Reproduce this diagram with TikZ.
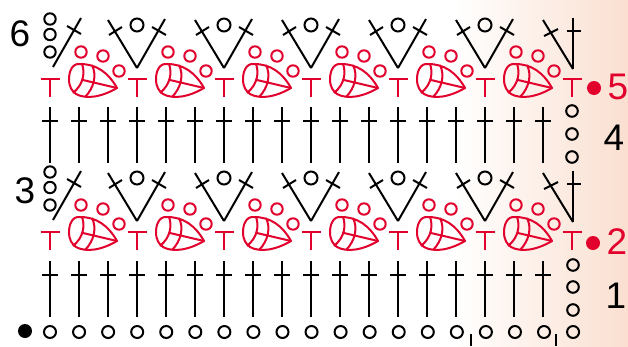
\documentclass[tikz,border=0pt]{standalone}
\usepackage{fontspec}
\setmainfont{Liberation Sans}
\definecolor{crored}{HTML}{E2002D}
\definecolor{peach}{HTML}{FADFD0}
\tikzset{
 x=1bp,y=-1bp,
 blk/.style={draw=black,line width=2bp},
 rd/.style={draw=crored,line width=2bp},
 num/.style={font=\fontsize{37bp}{37bp}\selectfont,inner sep=0pt,text=black},
 rednum/.style={num,text=crored},
 pics/stick/.style={code={
   \draw[blk] (0,0)--(0,56) (-8,14)--(8,14);}},
 pics/vee/.style={code={
   \draw[blk] (0,0)--(-29,-48) (-28,-33)--(-15,-41);
   \draw[blk] (0,0)--(28,-49) (15,-41)--(29,-33);
   \draw[blk] (0,-43) circle (6.5);}},
 pics/redtee/.style={code={
   \draw[rd] (-9.5,0)--(9.5,0) (0,0)--(0,18);}},
 pics/shell/.style={code={
   \draw[rd,line join=round] (67,9) .. controls (58,-7) and (46,-15) .. (30,-15)
      .. controls (22,-16) and (19,-7) .. (19,0)
      .. controls (19,8) and (22,12) .. (26,15)
      .. controls (35,20) and (50,19) .. (67,9) -- cycle;
   \draw[rd] (32,-15) .. controls (35,-7) and (34,5) .. (23,14);
   \draw[rd] (33,1) -- (67,9);
   \draw[rd] (42,-14) .. controls (47,-4) and (44,9) .. (35,18);
   \draw[rd] (31,-27) circle (5.7) (53,-23) circle (5.7) (69,-8) circle (5.7);}},
 pics/band/.style={code={
   \foreach \k in {0,...,6} \pic at ({87*\k},0) {redtee};
   \foreach \k in {0,...,5} {\pic at ({87*\k},0) {shell};}
   \foreach \k in {1,...,5} \pic at ({87*\k},-11) {vee};
   % left end of the row
   \draw[blk] (3,-12)--(31,-61) (17,-53)--(31,-45);
   \draw[blk] (0,-60) circle (5.7) (0,-44.5) circle (5.7) (0,-27) circle (5.7);
   % right end of the row
   \draw[blk] (523,-10)--(493,-59) (494,-43)--(508,-50);
   \draw[blk] (523,-10)--(523,-61) (517,-48)--(531,-48);
 }},
}
\begin{document}
\begin{tikzpicture}
\useasboundingbox (0,0) rectangle (628,346);
\fill[white] (0,0) rectangle (628,346);
\shade[left color=white,right color=peach,shading angle=90,draw=none] (455,0) rectangle (628,346);
% rows 5 and 2
\pic at (50,79) {band};
\pic at (50,232) {band};
% treble rows
\foreach \k in {0,...,17} {
  \pic at ({50+29*\k},107) {stick};
  \pic at ({50+29*\k},261) {stick};
}
% turning chains
\foreach \yy in {111,134,157} \draw[blk] (572,\yy) circle (5.8);
\foreach \yy in {265,287,310} \draw[blk] (573,\yy) circle (5.8);
% foundation chain
\fill[black] (25,331) circle (7);
\foreach \k in {0,...,18} \draw[blk] ({50+29.06*\k},332) circle (6);
\coordinate (tickA) at (471,334);
\coordinate (tickB) at (556,334);
\coordinate (tickAe) at (471,346);
\coordinate (tickBe) at (556,346);
\draw[blk] (tickA)--(tickAe) (tickB)--(tickBe);
% row numbers
\node[num] (six) at (20,34) {6};
\node[num] (three) at (25,191) {3};
\node[num] (four) at (614,138) {4};
\node[num] (one) at (616,296) {1};
\node[rednum] (five) at (618,87) {5};
\node[rednum] (two) at (617,242) {2};
\fill[crored] (594,88) circle (7);
\fill[crored] (593,243) circle (7);
\end{tikzpicture}
\end{document}
